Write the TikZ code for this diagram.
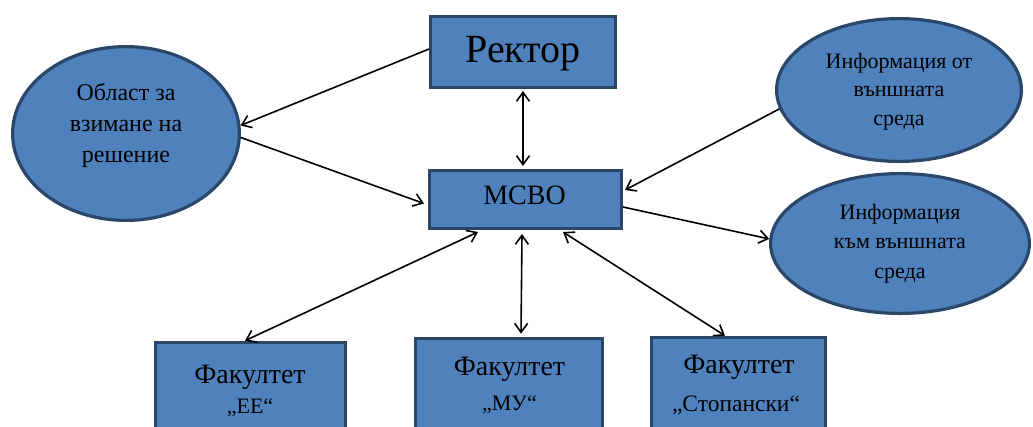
\documentclass[tikz,border=0pt]{standalone}
\usepackage{fontspec}
\setmainfont{Liberation Serif}
\usetikzlibrary{shapes.geometric,arrows.meta,calc}
\definecolor{boxfill}{HTML}{4F81BD}
\definecolor{boxline}{HTML}{2A4769}
\begin{document}
\begin{tikzpicture}[x=1pt,y=-1pt,
  shapebox/.style={draw=boxline, fill=boxfill, line width=3.2pt, rectangle, inner sep=0pt},
  oval/.style={draw=boxline, fill=boxfill, line width=3.2pt, ellipse, inner sep=0pt},
  lbl/.style={align=center, inner sep=0pt, text=black, anchor=base},
  conn/.style={line width=1.6pt, draw=black},
  tipa/.tip={Straight Barb[length=9pt,width=13pt]},
  ar/.style={conn, -tipa},
  dar/.style={conn, tipa-tipa},
]
\useasboundingbox (0,0) rectangle (1033,426);
\clip (0,0) rectangle (1033,426);
\fill[white] (0,0) rectangle (1033,426);

% boxes
\node[shapebox, minimum width=184.8pt, minimum height=70.8pt] (rector) at (523,52) {};
\node[shapebox, minimum width=191.8pt, minimum height=57.8pt] (mcbo) at (525.5,199.5) {};
\node[shapebox, minimum width=189.8pt, minimum height=117.4pt] (ee) at (250.5,401) {};
\node[shapebox, minimum width=186.8pt, minimum height=117.4pt] (mu) at (509,397) {};
\node[shapebox, minimum width=173.8pt, minimum height=117.4pt] (stop) at (738.5,396) {};

% ellipses
\node[oval, minimum width=226.8pt, minimum height=173.8pt] (obl) at (126,133.5) {};
\node[oval, minimum width=244.8pt, minimum height=142.8pt] (infoin) at (899,90) {};
\node[oval, minimum width=258.8pt, minimum height=139.8pt] (infoout) at (900,243.5) {};

% texts (base anchor = last line baseline)
\node[lbl, font=\fontsize{40}{44}\selectfont] (rectort) at (523,62) {Ректор};
\node[lbl, font=\fontsize{28}{30}\selectfont] (mcbot) at (524.5,204) {МСВО};
\node[lbl, font=\fontsize{24}{31}\selectfont] (oblt) at (126,162) {Област за\\взимане на\\решение};
\node[lbl, font=\fontsize{22}{28.5}\selectfont] (infoint) at (899,125) {Информация от\\външната\\среда};
\node[lbl, font=\fontsize{22}{29.5}\selectfont] (infooutt) at (900,278) {Информация\\към външната\\среда};
\node[lbl, font=\fontsize{28}{30}\selectfont] (eea) at (250,383) {Факултет};
\node[lbl, font=\fontsize{22}{26}\selectfont] (eeb) at (250,413) {„ЕЕ“};
\node[lbl, font=\fontsize{28}{30}\selectfont] (mua) at (509.5,375) {Факултет};
\node[lbl, font=\fontsize{22}{26}\selectfont] (mub) at (509.5,410) {„МУ“};
\node[lbl, font=\fontsize{28}{30}\selectfont] (stopa) at (739,373) {Факултет};
\node[lbl, font=\fontsize{23.5}{26}\selectfont] (stopb) at (736,411) {„Стопански“};

% connectors
\draw[ar] ($(rector.west)+(0,-3)$) -- (obl.4);
\draw[ar] (obl.-2) -- ($(mcbo.west)+(-4,4)$);
\draw[dar] ($(rector.south)+(0,2)$) -- ($(rector.south |- mcbo.north)+(0,-3)$);
\draw[ar] (infoin.189) -- ($(mcbo.east)+(2,-9.5)$);
\draw[ar] ($(mcbo.east)+(0,7.5)$) -- (infoout.178);
\draw[dar] ($(mcbo.south)+(-47.5,2)$) -- ($(ee.north)+(-5.5,0)$);
\draw[dar] ($(mcbo.south)+(-3.5,4)$) -- ($(mu.north)+(12,-3)$);
\draw[dar] ($(mcbo.south)+(37.5,2)$) -- ($(stop.north)+(-13.5,0)$);
\end{tikzpicture}
\end{document}
